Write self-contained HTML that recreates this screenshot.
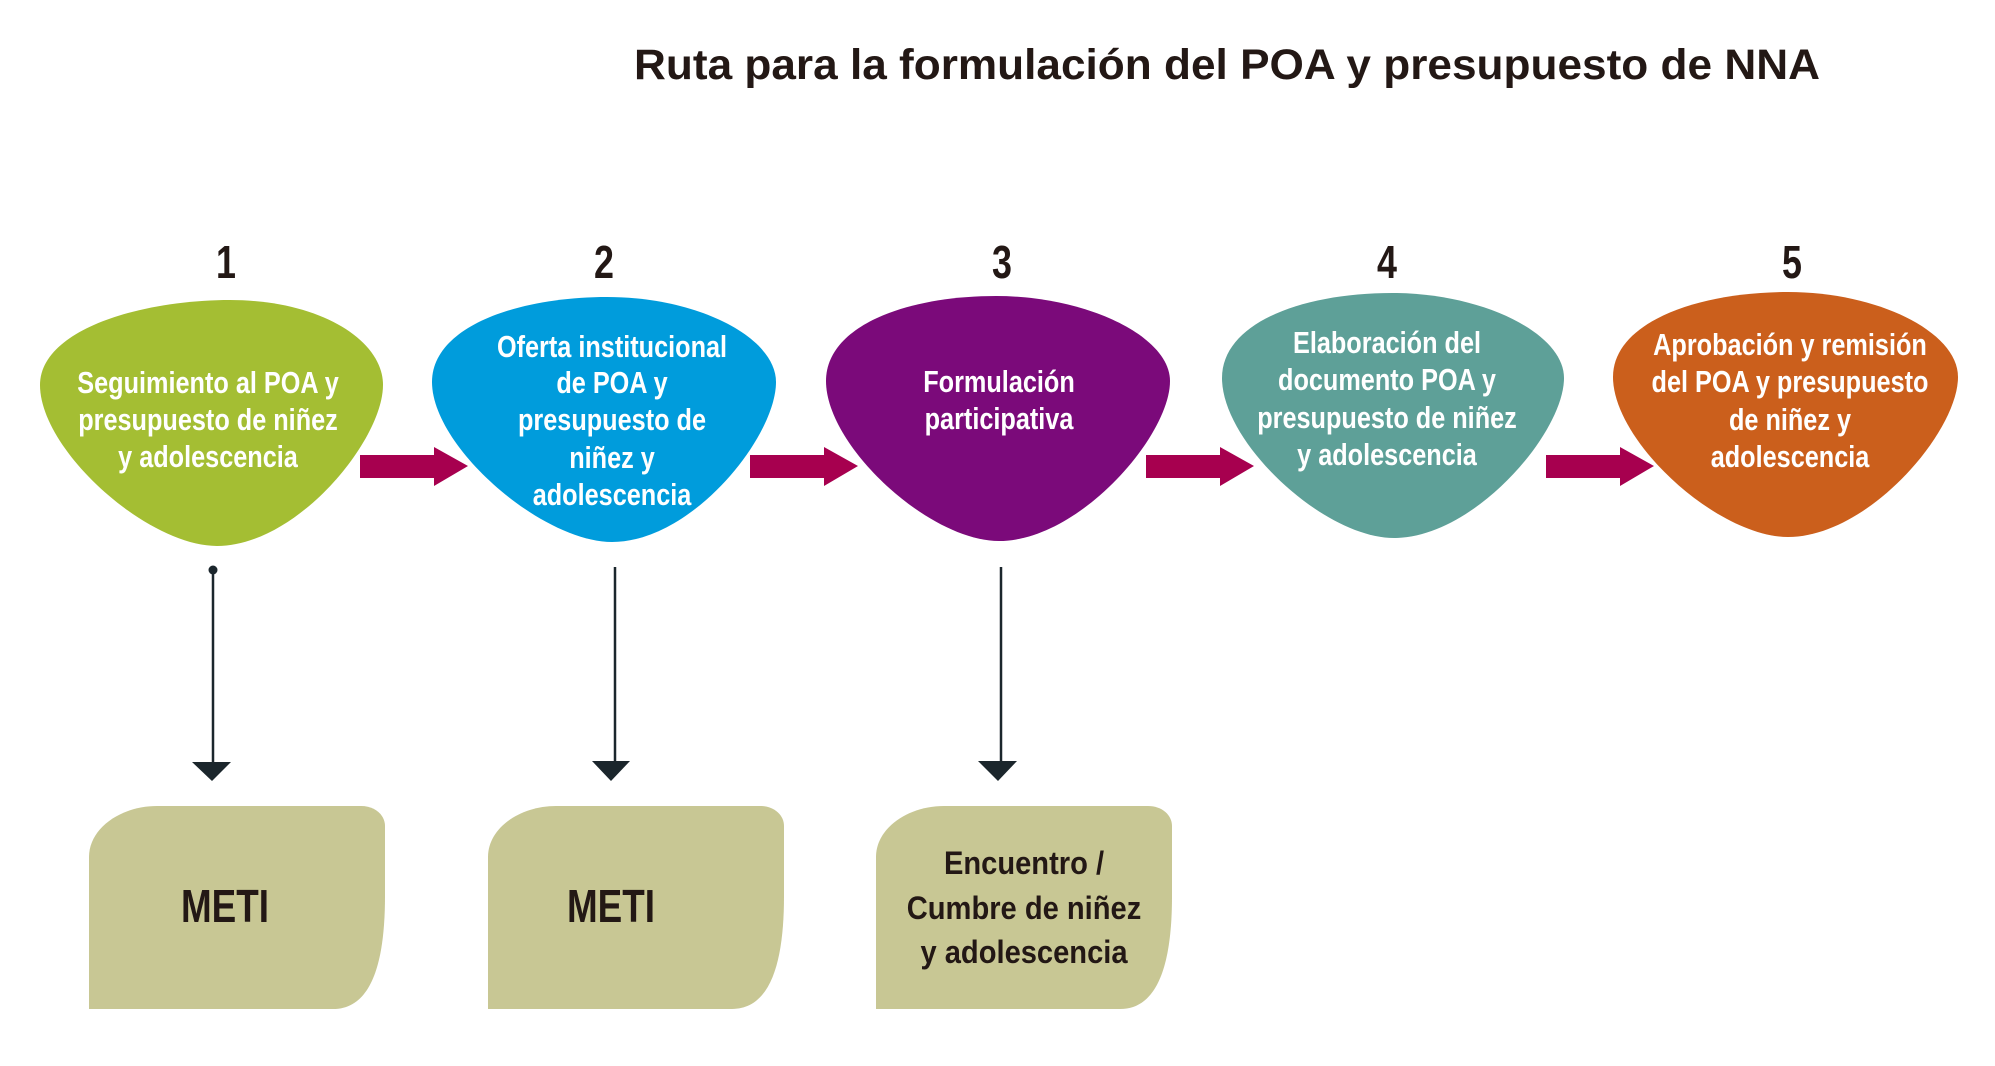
<!DOCTYPE html>
<html>
<head>
<meta charset="utf-8">
<style>
  html, body { margin:0; padding:0; background:#ffffff; }
  body { width:1995px; height:1066px; overflow:hidden; }
  svg { display:block; }
  .t { font-family:"Liberation Sans", Arial, sans-serif; font-weight:bold; }
</style>
</head>
<body>
<svg width="1995" height="1066" viewBox="0 0 1995 1066" xmlns="http://www.w3.org/2000/svg">
  <!-- Title -->
  <text class="t" x="634" y="79" font-size="43" fill="#231815" textLength="1186" lengthAdjust="spacingAndGlyphs">Ruta para la formulación del POA y presupuesto de NNA</text>

  <!-- Step numbers -->
  <g class="t" font-size="46" fill="#231815" text-anchor="middle">
    <text transform="translate(226,278) scale(0.78,1)">1</text>
    <text transform="translate(604,278) scale(0.78,1)">2</text>
    <text transform="translate(1002,278) scale(0.78,1)">3</text>
    <text transform="translate(1387,278) scale(0.78,1)">4</text>
    <text transform="translate(1792,278) scale(0.78,1)">5</text>
  </g>

  <!-- Blobs -->
  <path fill="#A4BE33" d="M40,385 C40,330 140,300 230,300 C320,300 383,340 383,385 C383,440 297,546 217,546 C147,546 40,450 40,385 Z"/>
  <path fill="#009CDC" d="M432,382 C432,327 517,297 607,297 C697,297 776,337 776,382 C776,437 692,542 612,542 C542,542 432,447 432,382 Z"/>
  <path fill="#7B0A7A" d="M826,381 C826,326 906,296 996,296 C1086,296 1170,336 1170,381 C1170,436 1079,541 999,541 C929,541 826,446 826,381 Z"/>
  <path fill="#5EA098" d="M1222,378 C1222,323 1302,293 1392,293 C1482,293 1564,333 1564,378 C1564,433 1474,538 1394,538 C1324,538 1222,443 1222,378 Z"/>
  <path fill="#CB5F1C" d="M1613,377 C1613,322 1698,292 1788,292 C1878,292 1958,332 1958,377 C1958,432 1868,537 1788,537 C1718,537 1613,442 1613,377 Z"/>

  <!-- Blob texts -->
  <g class="t" font-size="31" fill="#ffffff" text-anchor="middle">
    <text transform="translate(208,393) scale(0.815,1)">Seguimiento al POA y</text>
    <text transform="translate(208,430) scale(0.815,1)">presupuesto de niñez</text>
    <text transform="translate(208,467) scale(0.815,1)">y adolescencia</text>

    <text transform="translate(612,357) scale(0.815,1)">Oferta institucional</text>
    <text transform="translate(612,393) scale(0.815,1)">de POA y</text>
    <text transform="translate(612,430) scale(0.815,1)">presupuesto de</text>
    <text transform="translate(612,468) scale(0.815,1)">niñez y</text>
    <text transform="translate(612,505) scale(0.815,1)">adolescencia</text>

    <text transform="translate(999,392) scale(0.815,1)">Formulación</text>
    <text transform="translate(999,429) scale(0.815,1)">participativa</text>

    <text transform="translate(1387,353) scale(0.815,1)">Elaboración del</text>
    <text transform="translate(1387,390) scale(0.815,1)">documento POA y</text>
    <text transform="translate(1387,428) scale(0.815,1)">presupuesto de niñez</text>
    <text transform="translate(1387,465) scale(0.815,1)">y adolescencia</text>

    <text transform="translate(1790,355) scale(0.815,1)">Aprobación y remisión</text>
    <text transform="translate(1790,392) scale(0.815,1)">del POA y presupuesto</text>
    <text transform="translate(1790,430) scale(0.815,1)">de niñez y</text>
    <text transform="translate(1790,467) scale(0.815,1)">adolescencia</text>
  </g>

  <!-- Magenta arrows -->
  <g fill="#A7004F">
    <polygon points="360,455 434,455 434,447 468,466 434,486 434,478 360,478"/>
    <polygon points="750,455 824,455 824,447 858,466 824,486 824,478 750,478"/>
    <polygon points="1146,455 1220,455 1220,447 1254,466 1220,486 1220,478 1146,478"/>
    <polygon points="1546,455 1620,455 1620,447 1654,466 1620,486 1620,478 1546,478"/>
  </g>

  <!-- Vertical connectors -->
  <g stroke="#1B262C" stroke-width="2.5" fill="none">
    <line x1="213" y1="570" x2="213" y2="764"/>
    <line x1="615" y1="567" x2="615" y2="764"/>
    <line x1="1001" y1="567" x2="1001" y2="764"/>
  </g>
  <g fill="#1B262C">
    <circle cx="213" cy="570" r="4.5"/>
    <polygon points="192,762 231,762 212,781"/>
    <polygon points="592,761 630,761 611,781"/>
    <polygon points="978,761 1017,761 998,781"/>
  </g>

  <!-- Bottom boxes -->
  <g fill="#C8C794">
    <path d="M89,1009 L89,857 C89,828 121,806 157,806 L361,806 C375,806 385,815 385,826 L385,896 C385,956 374,1009 333,1009 Z"/>
    <path d="M488,1009 L488,857 C488,828 520,806 556,806 L760,806 C774,806 784,815 784,826 L784,896 C784,956 773,1009 732,1009 Z"/>
    <path d="M876,1009 L876,857 C876,828 908,806 944,806 L1148,806 C1162,806 1172,815 1172,826 L1172,896 C1172,956 1161,1009 1120,1009 Z"/>
  </g>

  <!-- Box texts -->
  <g class="t" fill="#231815" text-anchor="middle">
    <text x="225" y="922" font-size="46" textLength="88" lengthAdjust="spacingAndGlyphs">METI</text>
    <text x="611" y="922" font-size="46" textLength="88" lengthAdjust="spacingAndGlyphs">METI</text>
    <text transform="translate(1024,874) scale(0.91,1)" font-size="32">Encuentro /</text>
    <text transform="translate(1024,919) scale(0.91,1)" font-size="32">Cumbre de niñez</text>
    <text transform="translate(1024,963) scale(0.91,1)" font-size="32">y adolescencia</text>
  </g>
</svg>
</body>
</html>
